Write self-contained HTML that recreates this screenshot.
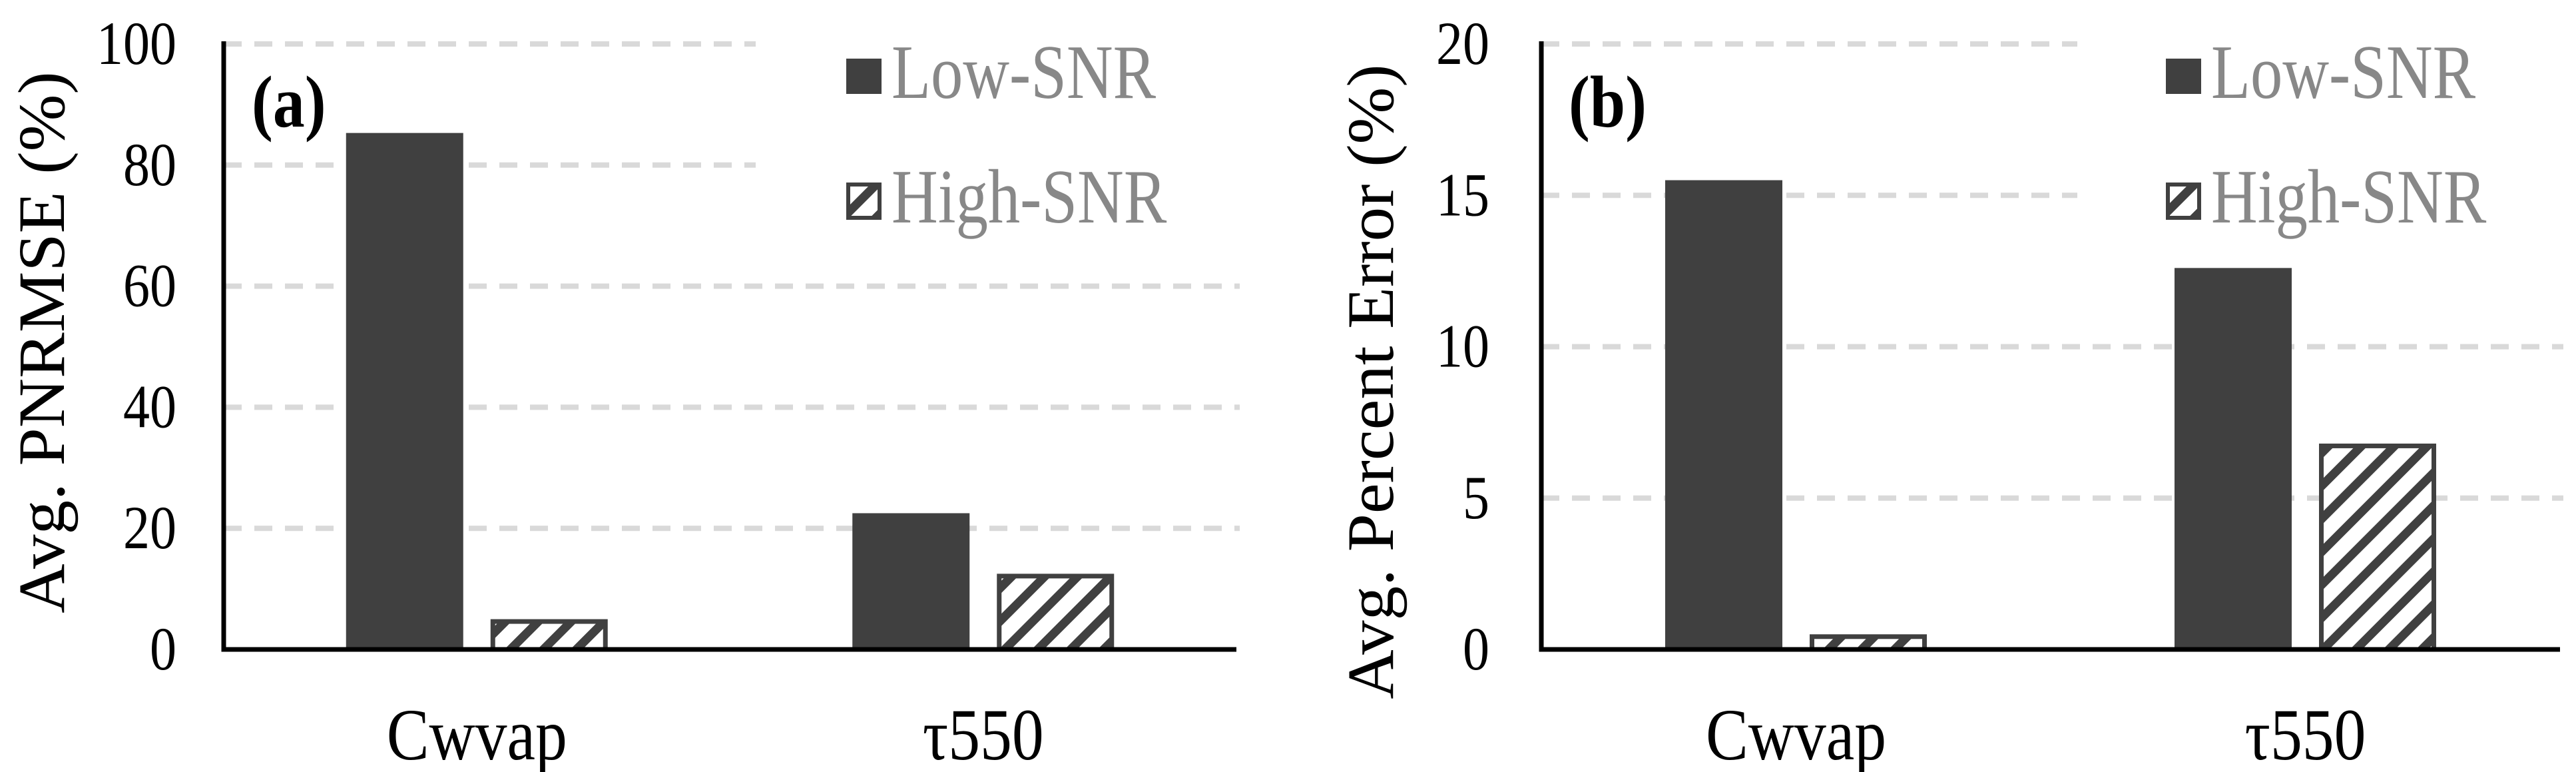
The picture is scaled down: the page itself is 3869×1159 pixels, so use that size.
<!DOCTYPE html>
<html><head><meta charset="utf-8"><style>
html,body{margin:0;padding:0;background:#fff;}
svg{display:block;}
text{font-family:"Liberation Serif","DejaVu Serif",serif;}
</style></head><body>
<svg id="chart" width="3869" height="1159" viewBox="0 0 3869 1159" xmlns="http://www.w3.org/2000/svg">
<defs>
<pattern id="hatch" patternUnits="userSpaceOnUse" width="35" height="35" patternTransform="rotate(45)">
<rect x="0" y="0" width="35" height="35" fill="#fff"/>
<rect x="0" y="0" width="13" height="35" fill="#404040"/>
</pattern>
</defs>
</svg>
<script>
const categories = ["Cwvap", "τ550"];
const seriesNames = ["Low-SNR", "High-SNR"];
const lowA = [85.3, 22.5];
const highA = [5, 12.5];
const lowB = [15.5, 12.6];
const highB = [0.5, 6.8];
const ticksA = [0, 20, 40, 60, 80, 100];
const ticksB = [0, 5, 10, 15, 20];

const NS = "http://www.w3.org/2000/svg";
const svg = document.getElementById("chart");
function mk(tag, attrs, parent){const e=document.createElementNS(NS,tag);for(const k in attrs)e.setAttribute(k,attrs[k]);(parent||svg).appendChild(e);return e;}
function txt(parent,x,y,size,sx,anchor,fill,weight,rot){
  const tr = rot ? `translate(${x},${y}) rotate(-90) scale(${sx},1)` : `translate(${x},${y}) scale(${sx},1)`;
  return mk("text",{x:0,y:0,"font-size":size,"text-anchor":anchor,fill:fill,"font-weight":weight||"normal",transform:tr},parent);
}

function panel(cfg){
  const g = mk("g",{});
  
  
  const y0=975, y1=66;
  const yScale = v => y0 - (v - cfg.min)/(cfg.max-cfg.min)*(y0-y1);
  const groupW = (cfg.right - cfg.left)/categories.length;
  const xCenter = i => cfg.left + groupW*(i+0.5);
  cfg.ticks.forEach(t=>{
    if(t===cfg.min) return;
    const y=yScale(t);
    const short = (y < 300);
    const l = mk("line",{x1:cfg.left,x2:short?cfg.gridStop:cfg.right+5,y1:y,y2:y,stroke:"#d9d9d9","stroke-width":8,"stroke-dasharray":"27 19"},g);
    
    
  });
  cfg.ticks.forEach(t=>{
    const tx = txt(g,cfg.tickRight,yScale(t)+30,92,0.87,"end","#000");
    tx.textContent = t;
    
    
  });
  const bw=176, gap=41;
  categories.forEach((c,i)=>{
    const cx=xCenter(i);
    const lv=cfg.low[i], hv=cfg.high[i];
    const b1=mk("rect",{x:cx-gap/2-bw,y:yScale(lv),width:bw,height:y0-yScale(lv),fill:"#404040"},g);
    
    
    const b2=mk("rect",{x:cx+gap/2+3.5,y:yScale(hv)+3.5,width:bw-7,height:Math.max(0,y0-yScale(hv)-3.5),fill:"url(#hatch)",stroke:"#404040","stroke-width":7},g);
    
    
    const lab=txt(g,cx,1140,110,0.87,"middle","#000");
    lab.textContent=c;
    
    
  });
  const ax=mk("line",{x1:cfg.left,x2:cfg.left,y1:y1-4,y2:y0+3.5,stroke:"#000","stroke-width":7},g);
  
  
  const bx=mk("line",{x1:cfg.left-3.5,x2:cfg.right,y1:y0,y2:y0,stroke:"#000","stroke-width":7},g);
  
  
  const yt=txt(g,cfg.titleX,cfg.titleY,cfg.titleSize,1.03,"middle","#000","normal",true);
  yt.textContent=cfg.title;
  
  
  const pl=txt(g,cfg.labelX,190,110,0.87,"start","#000","bold");
  pl.textContent=cfg.label;
  
  
  const s1=mk("rect",{x:cfg.legX,y:88,width:53,height:53,fill:"#404040"},g);
  
  
  const t1=txt(g,cfg.legX+68,147,115,0.84,"start","#888");
  t1.textContent=seriesNames[0];
  
  
  const s2=mk("rect",{x:cfg.legX+3,y:277,width:47,height:50,fill:"url(#hatch)",stroke:"#404040","stroke-width":6},g);
  
  
  const t2=txt(g,cfg.legX+68,334,115,0.84,"start","#888");
  t2.textContent=seriesNames[1];
  
  
}
panel({name:"panel-a",left:336,right:1857,gridStop:1135,min:0,max:100,ticks:ticksA,low:lowA,high:highA,tickRight:265,title:"Avg. PNRMSE (%)",titleSize:100,titleX:96,titleY:514,label:"(a)",labelX:378,legX:1271});
panel({name:"panel-b",left:2315,right:3845,gridStop:3120,min:0,max:20,ticks:ticksB,low:lowB,high:highB,tickRight:2237,title:"Avg. Percent Error (%)",titleSize:100,titleX:2092,titleY:573,label:"(b)",labelX:2356,legX:3253});
</script>
</body></html>
